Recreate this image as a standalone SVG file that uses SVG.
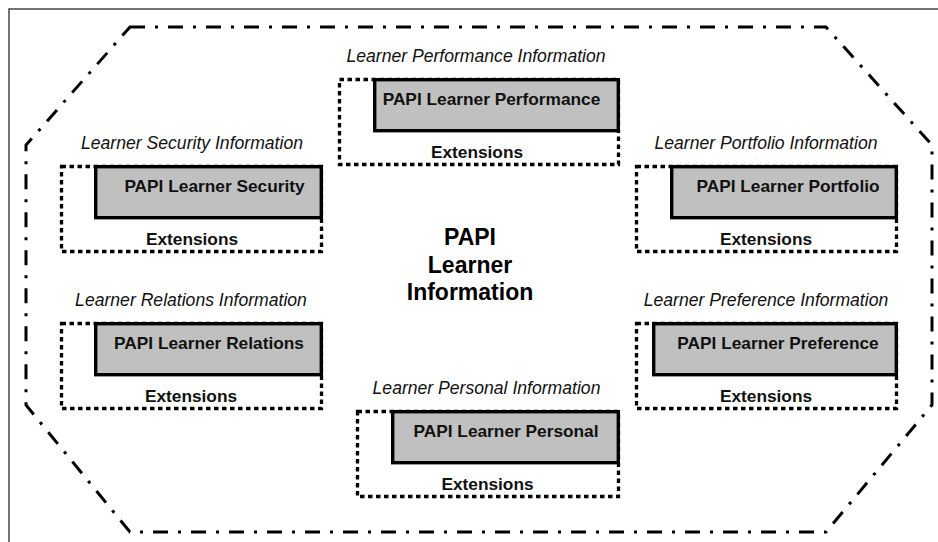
<svg xmlns="http://www.w3.org/2000/svg" width="938" height="542" viewBox="0 0 938 542">
<style>
.bg{fill:#fff}
.frame{fill:none;stroke:#444;stroke-width:1.5}
.oct{fill:none;stroke:#000;stroke-width:3;stroke-dasharray:15 10 3 10}
.dot{fill:none;stroke:#000;stroke-width:3.3;stroke-dasharray:4.5 3.5}
.box{fill:#c0c0c0;stroke:#000;stroke-width:3.4}
.title{font-family:"Liberation Sans",Arial,sans-serif;font-style:italic;font-size:17.6px;fill:#111;text-anchor:middle}
.name{font-family:"Liberation Sans",Arial,sans-serif;font-weight:bold;font-size:17.3px;fill:#111;text-anchor:middle}
.center{font-family:"Liberation Sans",Arial,sans-serif;font-weight:bold;font-size:23px;fill:#000;text-anchor:middle}
</style>
<rect class="bg" x="0" y="0" width="938" height="542"/>
<rect class="frame" x="9" y="9" width="1000" height="600"/>
<g id="outer">
<polygon class="oct" points="130,27 826,27 932,145 932,405 826,532 130,532 26,405 26,145"/>
<text class="center" x="470" y="245">PAPI</text>
<text class="center" x="470" y="273">Learner</text>
<text class="center" x="470" y="300">Information</text>
</g>
<g id="performance">
<text class="title" x="476" y="62">Learner Performance Information</text>
<rect class="dot" x="339.5" y="79.5" width="279" height="85"/>
<rect class="box" x="374.7" y="79.7" width="243.6" height="51"/>
<text class="name" x="491.5" y="105">PAPI Learner Performance</text>
<text class="name" x="477" y="158">Extensions</text>
</g>
<g id="security">
<text class="title" x="192" y="149">Learner Security Information</text>
<rect class="dot" x="61.5" y="166.5" width="260" height="85"/>
<rect class="box" x="95.7" y="166.7" width="225.6" height="51"/>
<text class="name" x="214.5" y="192">PAPI Learner Security</text>
<text class="name" x="192" y="245">Extensions</text>
</g>
<g id="portfolio">
<text class="title" x="766" y="149">Learner Portfolio Information</text>
<rect class="dot" x="636.5" y="166.5" width="260" height="85"/>
<rect class="box" x="671.7" y="166.7" width="224.6" height="51"/>
<text class="name" x="788" y="192">PAPI Learner Portfolio</text>
<text class="name" x="766" y="245">Extensions</text>
</g>
<g id="relations">
<text class="title" x="191" y="306">Learner Relations Information</text>
<rect class="dot" x="61.5" y="323.5" width="260" height="85"/>
<rect class="box" x="95.7" y="323.7" width="225.6" height="51"/>
<text class="name" x="209" y="349">PAPI Learner Relations</text>
<text class="name" x="191" y="402">Extensions</text>
</g>
<g id="preference">
<text class="title" x="766" y="306">Learner Preference Information</text>
<rect class="dot" x="636.5" y="323.5" width="260" height="85"/>
<rect class="box" x="653.7" y="323.7" width="242.6" height="51"/>
<text class="name" x="778" y="349">PAPI Learner Preference</text>
<text class="name" x="766" y="402">Extensions</text>
</g>
<g id="personal">
<text class="title" x="486.5" y="394">Learner Personal Information</text>
<rect class="dot" x="357.5" y="411.5" width="261" height="85"/>
<rect class="box" x="392.7" y="411.7" width="225.6" height="51"/>
<text class="name" x="506" y="437">PAPI Learner Personal</text>
<text class="name" x="487.5" y="490">Extensions</text>
</g>
<g id="connectors"></g>
</svg>
